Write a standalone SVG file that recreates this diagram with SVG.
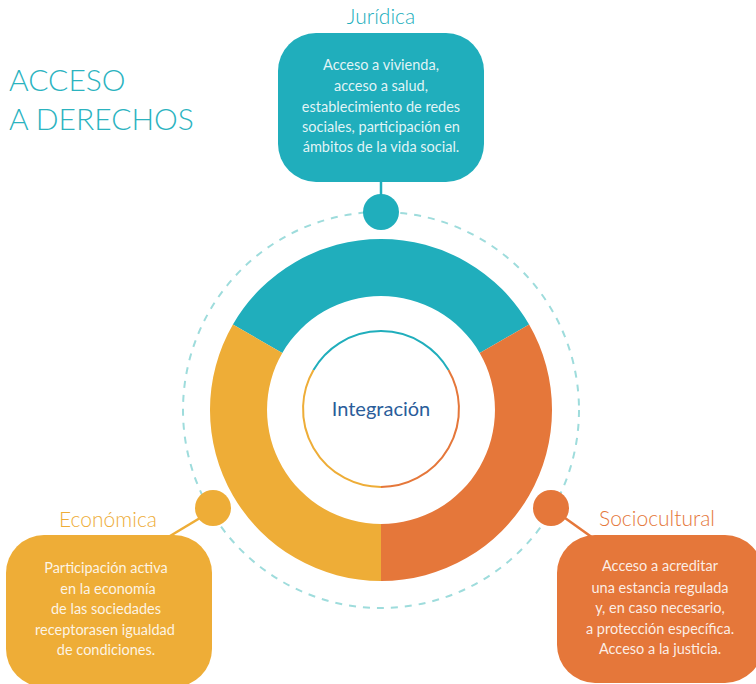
<svg xmlns="http://www.w3.org/2000/svg" width="756" height="684" viewBox="0 0 756 684">
<style>
.title{font-family:Lato,"Open Sans","Liberation Sans",sans-serif;font-weight:300;fill:#2BB3BF;font-size:30px}
.head{font-family:Lato,"Open Sans","Liberation Sans",sans-serif;font-weight:300;font-size:21px;text-anchor:middle}
.body{font-family:Lato,"Open Sans","Liberation Sans",sans-serif;font-weight:400;font-size:14.5px;text-anchor:middle;fill:#FFFFFF;fill-opacity:0.88}
.link{stroke-width:2.5;fill:none}
</style>
<rect width="756" height="684" fill="#FFFFFF"/>
<text class="title" x="9" y="91">ACCESO</text>
<text class="title" x="9" y="130">A DERECHOS</text>

<circle cx="381" cy="410" r="198" fill="none" stroke="#9EDCDC" stroke-width="2" stroke-dasharray="7 7"/>

<g id="ring">
<path d="M 232.9 324.5 A 171 171 0 0 1 529.1 324.5 L 479.7 353 A 114 114 0 0 0 282.3 353 Z" fill="#20AEBC"/>
<path d="M 529.1 324.5 A 171 171 0 0 1 381 581 L 381 524 A 114 114 0 0 0 479.7 353 Z" fill="#E5773A"/>
<path d="M 381 581 A 171 171 0 0 1 232.9 324.5 L 282.3 353 A 114 114 0 0 0 381 524 Z" fill="#EEAD37"/>
</g>

<g id="integracion">
<path d="M 313.5 370 A 78 78 0 0 1 448.5 370" fill="none" stroke="#20AEBC" stroke-width="2"/>
<path d="M 448.5 370 A 78 78 0 0 1 381 487" fill="none" stroke="#E5773A" stroke-width="2"/>
<path d="M 381 487 A 78 78 0 0 1 313.5 370" fill="none" stroke="#EEAD37" stroke-width="2"/>
<text x="381" y="416" font-family="Lato,'Open Sans','Liberation Sans',sans-serif" font-size="20" fill="#2A5D9A" text-anchor="middle">Integración</text>
</g>

<g id="connectors">
<line class="link" x1="381" y1="182" x2="381" y2="200" stroke="#20AEBC"/>
<line class="link" x1="170" y1="536" x2="200" y2="518" stroke="#EEAD37"/>
<line class="link" x1="565" y1="518" x2="593" y2="538" stroke="#E5773A"/>
</g>

<g id="juridica">
<circle cx="381" cy="212" r="18" fill="#20AEBC"/>
<text class="head" x="381" y="24" fill="#20AEBC">Jurídica</text>
<rect x="278" y="33" width="206" height="149" rx="38" fill="#20AEBC"/>
<text class="body" x="381" y="70">Acceso a vivienda,</text>
<text class="body" x="381" y="91">acceso a salud,</text>
<text class="body" x="381" y="112">establecimiento de redes</text>
<text class="body" x="381" y="132">sociales, participación en</text>
<text class="body" x="381" y="152">ámbitos de la vida social.</text>
</g>

<g id="economica">
<circle cx="213" cy="508" r="18" fill="#EEAD37"/>
<text class="head" x="108" y="527" fill="#EEAD37">Económica</text>
<rect x="6" y="535" width="206" height="152" rx="38" fill="#EEAD37"/>
<text class="body" x="106" y="573">Participación activa</text>
<text class="body" x="108" y="594">en la economía</text>
<text class="body" x="106" y="614">de las sociedades</text>
<text class="body" x="105" y="635">receptorasen igualdad</text>
<text class="body" x="106" y="655">de condiciones.</text>
</g>

<g id="sociocultural">
<circle cx="551" cy="508" r="18" fill="#E5773A"/>
<text class="head" x="657" y="526" fill="#E5773A">Sociocultural</text>
<rect x="557" y="535" width="206" height="148" rx="38" fill="#E5773A"/>
<text class="body" x="660" y="571">Acceso a acreditar</text>
<text class="body" x="660" y="593">una estancia regulada</text>
<text class="body" x="660" y="613">y, en caso necesario,</text>
<text class="body" x="660" y="634">a protección específica.</text>
<text class="body" x="660" y="654">Acceso a la justicia.</text>
</g>
</svg>
